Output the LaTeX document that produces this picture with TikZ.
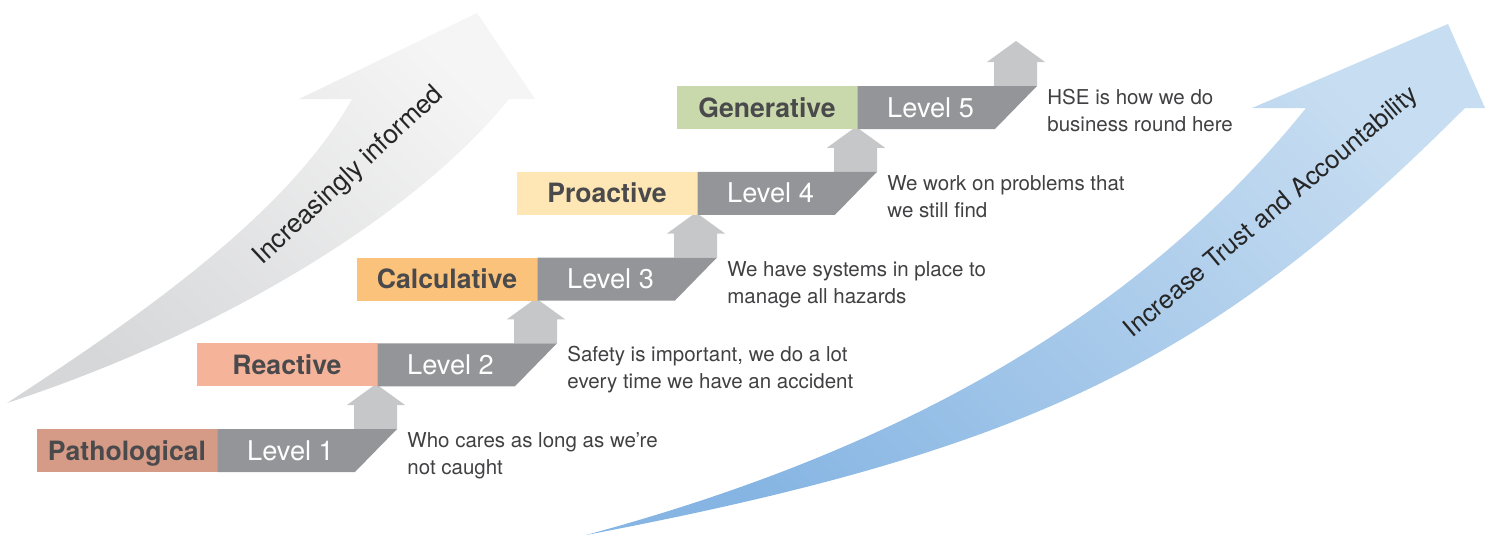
\documentclass[tikz,border=0pt]{standalone}
\usepackage{fontspec}
\setmainfont{TeX Gyre Heros}
\definecolor{patho}{HTML}{D69B86}
\definecolor{react}{HTML}{F5B39A}
\definecolor{calc}{HTML}{FAC27B}
\definecolor{proact}{HTML}{FEE7B5}
\definecolor{gener}{HTML}{CAD9AC}
\definecolor{lvlgray}{HTML}{939598}
\definecolor{upgray}{HTML}{C6C7C9}
\definecolor{labtext}{HTML}{4A4A4C}
\definecolor{desctext}{HTML}{414143}
\definecolor{greyA}{HTML}{D6D7D9}
\definecolor{greyB}{HTML}{F5F5F5}
\definecolor{blueA}{HTML}{86B5E3}
\definecolor{blueB}{HTML}{C7DDF1}
\begin{document}
\begin{tikzpicture}[x=0.5pt,y=-0.5pt,
  labtxt/.style={inner sep=0pt, text=labtext, font=\fontsize{13.3pt}{15pt}\selectfont\bfseries},
  lvltxt/.style={inner sep=0pt, text=white, font=\fontsize{13.6pt}{15pt}\selectfont},
  desc/.style={inner sep=0pt, text=desctext, font=\fontsize{10.25pt}{13.5pt}\selectfont},
  bigtxt/.style={inner sep=0pt, text=black!85, font=\fontsize{13.1pt}{15pt}\selectfont},
  lvlshape/.style={fill=lvlgray},
  upshape/.style={fill=upgray}]
\useasboundingbox (0,0) rectangle (1496,536);

% big grey arrow (left)
\shade[bottom color=greyA, top color=greyB, shading angle=-45]
  (7,403) .. controls (150,310) and (290,210) .. (352,99)
  -- (299,99) -- (477,13) -- (535,99) -- (509,99)
  .. controls (420,210) and (230,330) .. (7,403) -- cycle;
\node[bigtxt, rotate=43] (informed) at (349,176) {Increasingly informed};

% big blue arrow (right)
\shade[bottom color=blueA, top color=blueB, shading angle=-45]
  (586,535) .. controls (886,454) and (1132,324) .. (1306,108)
  -- (1252,108) -- (1448,24) -- (1485,108) -- (1465,108)
  .. controls (1215,358) and (1036,449.5) .. (586,535) -- cycle;
\node[bigtxt, rotate=40, font=\fontsize{12.75pt}{15pt}\selectfont] (trust) at (1272,213) {Increase Trust and Accountability};

% up arrows
\foreach \n in {1,...,5}{
  \pgfmathsetmacro{\tr}{397+160*(\n-1)}
  \pgfmathsetmacro{\tp}{429-85.75*(\n-1)}
  \fill[upshape] (\tr-43,\tp) -- (\tr-43,\tp-24) -- (\tr-50,\tp-24) -- (\tr-21,\tp-45)
    -- (\tr+8,\tp-24) -- (\tr,\tp-24) -- (\tr,\tp) -- cycle;
}

% levels
\foreach \n/\lab/\col/\da/\db in {
  1/Pathological/patho/{Who cares as long as we're}/{not caught},
  2/Reactive/react/{Safety is important, we do a lot}/{every time we have an accident},
  3/Calculative/calc/{We have systems in place to}/{manage all hazards},
  4/Proactive/proact/{We work on problems that}/{we still find},
  5/Generative/gener/{HSE is how we do}/{business round here}}{
  \pgfmathsetmacro{\lf}{37+160*(\n-1)}
  \pgfmathsetmacro{\sp}{\lf+180.5}
  \pgfmathsetmacro{\tr}{\sp+179.5}
  \pgfmathsetmacro{\tp}{429-85.75*(\n-1)}
  \fill[\col] (\lf,\tp) rectangle (\sp,\tp+43);
  \fill[lvlshape] (\sp,\tp) -- (\tr,\tp) -- (\tr-42,\tp+43) -- (\sp,\tp+43) -- cycle;
  \node[labtxt, anchor=base] (lab\n) at (\lf+90,\tp+31) {\lab};
  \node[lvltxt, anchor=base] (lvl\n) at (\sp+73,\tp+31) {Level \n};
  \node[desc, anchor=base west] (da\n) at (\tr+10,\tp+18.5) {\da};
  \node[desc, anchor=base west] (db\n) at (\tr+10,\tp+45.5) {\db};
}
\end{tikzpicture}
\end{document}
